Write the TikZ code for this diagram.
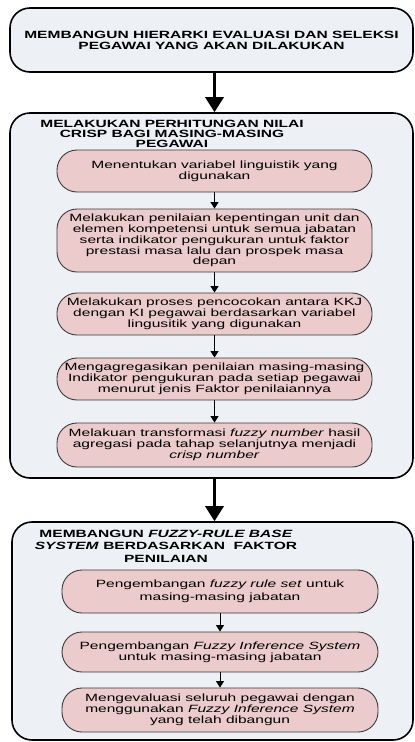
\documentclass[tikz,border=0pt]{standalone}
\usepackage{fontspec}
\setmainfont[FakeStretch=1.48]{Liberation Sans}
\usetikzlibrary{arrows.meta}
\definecolor{outerfill}{HTML}{EDF0F5}
\definecolor{innerfill}{HTML}{EBCBCB}
\definecolor{innerdraw}{HTML}{3A3A3A}
\begin{document}
\begin{tikzpicture}[x=1pt,y=-1pt,
  outerbox/.style={draw=black, line width=1.6pt, fill=outerfill, rounded corners=20pt, inner sep=0pt},
  innerbox/.style={draw=innerdraw, line width=0.9pt, fill=innerfill, rounded corners=20pt, inner sep=0pt, align=center, font=\fontsize{10.5}{10.8}\selectfont},
  titletext/.style={align=center, inner sep=0pt, font=\fontsize{10.5}{10.2}\selectfont\bfseries},
  bigarrow/.style={line width=3.2pt, -{Triangle[width=18pt,length=15pt]}},
  smallarrow/.style={line width=1pt, -{Triangle[width=8pt,length=6.5pt]}}]
\useasboundingbox (0,0) rectangle (415,742);

% outer boxes
\node[outerbox, minimum width=403, minimum height=64, align=center, font=\fontsize{10.5}{11}\selectfont\bfseries] (b1) at (211.5,40)
  {MEMBANGUN HIERARKI EVALUASI DAN SELEKSI\\PEGAWAI YANG AKAN DILAKUKAN};
\node[outerbox, minimum width=403, minimum height=365] (b2) at (211.5,295.5) {};
\node[outerbox, minimum width=401, minimum height=218] (b3) at (212.5,631) {};

% titles
\node[titletext] (t2) at (172,134) {MELAKUKAN PERHITUNGAN NILAI\\CRISP BAGI MASING-MASING\\PEGAWAI};
\node[titletext, font=\fontsize{10.5}{12.5}\selectfont\bfseries] (t3) at (166,546)
  {MEMBANGUN \textit{FUZZY-RULE BASE}\\\textit{SYSTEM} BERDASARKAN\ \ FAKTOR\\PENILAIAN};

% inner boxes of section 2
\node[innerbox, minimum width=315, minimum height=42] (a) at (214.5,171)
  {Menentukan variabel linguistik yang\\digunakan};
\node[innerbox, minimum width=315, minimum height=63] (b) at (214.5,240.5)
  {Melakukan penilaian kepentingan unit dan\\elemen kompetensi untuk semua jabatan\\serta indikator pengukuran untuk faktor\\prestasi masa lalu dan prospek masa\\depan};
\node[innerbox, minimum width=315, minimum height=42] (c) at (214.5,314)
  {Melakukan proses pencocokan antara KKJ\\dengan KI pegawai berdasarkan variabel\\lingusitik yang digunakan};
\node[innerbox, minimum width=315, minimum height=42] (d) at (214.5,379)
  {Mengagregasikan penilaian masing-masing\\Indikator pengukuran pada setiap pegawai\\menurut jenis Faktor penilaiannya};
\node[innerbox, minimum width=315, minimum height=44] (e) at (214.5,445)
  {Melakuan transformasi \textit{fuzzy number} hasil\\agregasi pada tahap selanjutnya menjadi\\\textit{crisp number}};

% inner boxes of section 3
\node[innerbox, minimum width=316, minimum height=43, font=\fontsize{10.5}{13}\selectfont] (f) at (220,591.5)
  {Pengembangan \textit{fuzzy rule set} untuk\\masing-masing jabatan};
\node[innerbox, minimum width=316, minimum height=40] (g) at (220,652)
  {Pengembangan \textit{Fuzzy Inference System}\\untuk masing-masing jabatan};
\node[innerbox, minimum width=316, minimum height=44] (h) at (220,710)
  {Mengevaluasi seluruh pegawai dengan\\menggunakan \textit{Fuzzy Inference System}\\yang telah dibangun};

% connectors
\draw[bigarrow] (b1.south -| a.north) -- (b2.north -| a.north);
\draw[bigarrow] (b2.south -| a.north) -- (b3.north -| a.north);
\draw[smallarrow] (a) -- (b);
\draw[smallarrow] (b) -- (c);
\draw[smallarrow] (c) -- (d);
\draw[smallarrow] (d) -- (e);
\draw[smallarrow] (f) -- (g);
\draw[smallarrow] (g) -- (h);
\end{tikzpicture}
\end{document}
